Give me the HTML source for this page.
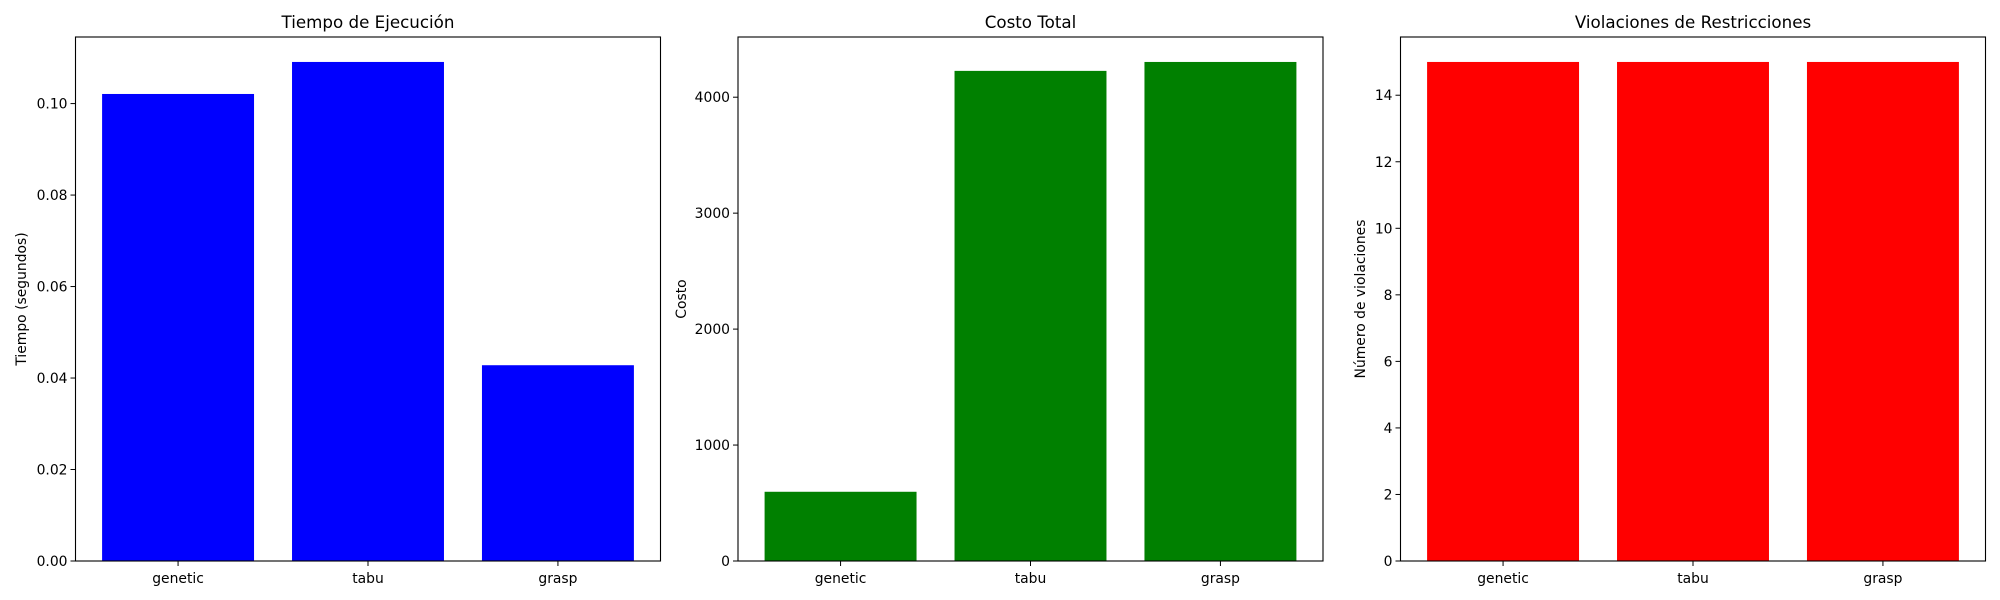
<!DOCTYPE html>
<html><head><meta charset="utf-8"><style>
html,body{margin:0;padding:0;background:#fff;}
svg{display:block;font-family:"DejaVu Sans","Liberation Sans",sans-serif;}
</style></head><body>
<svg id="fig" width="2000" height="600" viewBox="0 0 2000 600"></svg>
<script>
const categories = ["genetic", "tabu", "grasp"];
const timeValues = [0.1021, 0.1091, 0.0428];
const costValues = [597, 4227, 4304];
const violationValues = [15, 15, 15];
const timeTicks = [0, 0.02, 0.04, 0.06, 0.08, 0.10];
const timeTickLabels = ["0.00", "0.02", "0.04", "0.06", "0.08", "0.10"];
const costTicks = [0, 1000, 2000, 3000, 4000];
const costTickLabels = ["0", "1000", "2000", "3000", "4000"];
const violTicks = [0, 2, 4, 6, 8, 10, 12, 14];
const violTickLabels = ["0", "2", "4", "6", "8", "10", "12", "14"];

const NS = "http://www.w3.org/2000/svg";
const svg = document.getElementById("fig");
function mk(tag, attrs, parent) {
  const e = document.createElementNS(NS, tag);
  for (const k in attrs) e.setAttribute(k, attrs[k]);
  (parent || svg).appendChild(e);
  return e;
}
const TOP = 37, BOT = 561, W = 585;

function panel(left, title, ylabel, ylabelX, values, ticks, tickLabels, color, key) {
  const g = mk("g", {});
  
  
  const ymax = Math.max(...values) * 1.05;
  const y = v => BOT - v / ymax * (BOT - TOP);
  const x = v => left + (v + 0.54) / 3.08 * W;
  categories.forEach((c, i) => {
    const r = mk("rect", {x: x(i - 0.4), y: y(values[i]), width: x(i + 0.4) - x(i - 0.4), height: BOT - y(values[i]), fill: color}, g);
    
    
    const t = mk("line", {x1: x(i), x2: x(i), y1: BOT, y2: BOT + 5, stroke: "#000", "stroke-width": 1}, g);
    
    
    const lb = mk("text", {x: x(i), y: BOT + 22, "text-anchor": "middle", "font-size": 13.9, fill: "#000"}, g);
    lb.textContent = c;
    
    
  });
  ticks.forEach((v, i) => {
    const t = mk("line", {x1: left - 5, x2: left, y1: y(v), y2: y(v), stroke: "#000", "stroke-width": 1}, g);
    
    
    const lb = mk("text", {x: left - 8, y: y(v) + 5, "text-anchor": "end", "font-size": 13.9, fill: "#000"}, g);
    lb.textContent = tickLabels[i];
    
    
  });
  const fr = mk("rect", {x: left, y: TOP, width: W, height: BOT - TOP, fill: "none", stroke: "#000", "stroke-width": 1.1}, g);
  
  
  const tt = mk("text", {x: left + W / 2, y: 28, "text-anchor": "middle", "font-size": 16.7, fill: "#000"}, g);
  tt.textContent = title;
  
  
  const yl = mk("text", {x: ylabelX, y: (TOP + BOT) / 2, "text-anchor": "middle", "font-size": 13.9, fill: "#000", transform: `rotate(-90 ${ylabelX} ${(TOP + BOT) / 2})`}, g);
  yl.textContent = ylabel;
  
  
}
panel(75.5, "Tiempo de Ejecución", "Tiempo (segundos)", 26, timeValues, timeTicks, timeTickLabels, "#0000ff", "time");
panel(738, "Costo Total", "Costo", 686, costValues, costTicks, costTickLabels, "#008000", "cost");
panel(1400.5, "Violaciones de Restricciones", "Número de violaciones", 1365, violationValues, violTicks, violTickLabels, "#ff0000", "violations");
</script>
</body></html>
